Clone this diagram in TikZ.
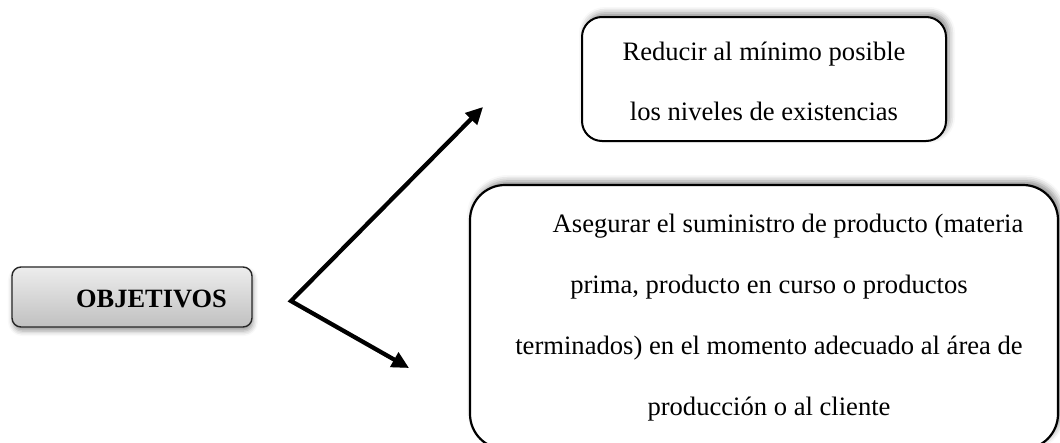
\documentclass[tikz,border=0pt]{standalone}
\usepackage{fontspec}
\setmainfont{Liberation Serif}
\usetikzlibrary{shadows.blur, arrows.meta}
\definecolor{objtop}{HTML}{EDEDED}
\definecolor{objbot}{HTML}{C0C0C0}
\begin{document}
\begin{tikzpicture}[x=1pt,y=-1pt,
  bigbox/.style={draw=black, line width=2.2pt, rounded corners=35pt, fill=white, inner sep=0pt,
    blur shadow={shadow xshift=3pt, shadow yshift=4pt, shadow blur radius=6pt, shadow opacity=45}},
  topbox/.style={draw=black, line width=2pt, rounded corners=20pt, fill=white, inner sep=0pt,
    blur shadow={shadow xshift=3pt, shadow yshift=4pt, shadow blur radius=6pt, shadow opacity=45}},
  objbox/.style={draw=black!85, line width=1.4pt, rounded corners=9pt, top color=objtop, bottom color=objbot, inner sep=0pt,
    blur shadow={shadow xshift=1pt, shadow yshift=-4pt, shadow blur radius=5pt, shadow opacity=40}},
  txt/.style={inner sep=0pt, align=center},
  arr/.style={line width=4.2pt, line join=miter, {Triangle[length=17pt,width=16pt]}-{Triangle[length=17pt,width=16pt]}},
  arrshadow/.style={arr, draw=black, opacity=0.25, xshift=1.5pt, yshift=-2.5pt}
]
\useasboundingbox (0,0) rectangle (1060,442);

% boxes
\node[bigbox, minimum width=588pt, minimum height=264pt] (big) at (764,317) {};
\node[topbox, minimum width=364pt, minimum height=124pt] (top) at (764,79) {};
\node[objbox, minimum width=240pt, minimum height=60pt] (obj) at (132,297) {};

% texts
\node[txt, font=\fontsize{26.6pt}{61pt}\selectfont] (bigtxt) at (769,318)
  {\hspace*{38pt}Asegurar el suministro de producto (materia\\
   prima, producto en curso o productos\\
   terminados) en el momento adecuado al área de\\
   producción o al cliente};
\node[txt, font=\fontsize{26.6pt}{60pt}\selectfont] (toptxt) at (764,81)
  {Reducir al mínimo posible\\ los niveles de existencias};
\node[inner sep=0pt, anchor=base west, font=\fontsize{26.4pt}{30pt}\selectfont\bfseries] (objtxt) at (76,307) {OBJETIVOS};

% connectors
\coordinate (v) at (291,301);
\coordinate (up) at (483,107);
\coordinate (dn) at (409,368);
\draw[arrshadow] (up) -- (v) -- (dn);
\draw[arr] (up) -- (v) -- (dn);
\end{tikzpicture}
\end{document}
